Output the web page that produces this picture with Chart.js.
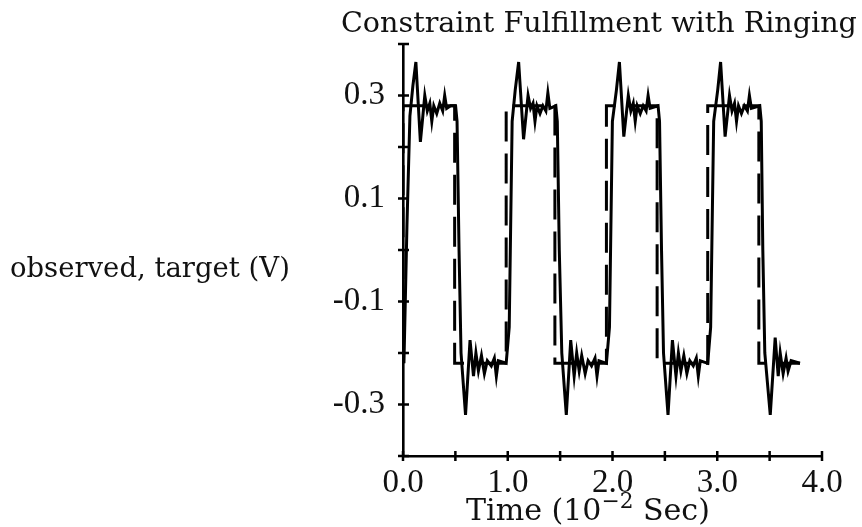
<!DOCTYPE html>
<html>
<head>
<meta charset="utf-8">
<script src="https://cdn.jsdelivr.net/npm/chart.js@4/dist/chart.umd.min.js"></script>
<style>
  body { margin: 0; background: #fff; }
  #wrap { width: 862px; height: 527px; }
</style>
</head>
<body>
<div id="wrap"><canvas id="c"></canvas></div>
<script>
// observed signal (ringing) – time in 10^-2 s, volts
const obsTime = [
  0.009, 0.038, 0.066, 0.095, 0.123, 0.166, 0.208, 0.232, 0.256, 0.275, 0.294, 0.322, 0.351, 0.379, 0.398, 0.417, 0.455, 0.502,
  0.516, 0.535, 0.554, 0.597, 0.640, 0.673, 0.696, 0.720, 0.749, 0.777, 0.805, 0.843, 0.872, 0.891, 0.910, 0.985,
  1.014, 1.042, 1.071, 1.104, 1.151, 1.194, 1.218, 1.241, 1.260, 1.279, 1.308, 1.336, 1.364, 1.383, 1.402, 1.459,
  1.473, 1.492, 1.516, 1.559, 1.601, 1.634, 1.658, 1.682, 1.706, 1.739, 1.767, 1.800, 1.833, 1.852, 1.871, 1.942,
  1.971, 1.999, 2.037, 2.066, 2.108, 2.151, 2.175, 2.198, 2.217, 2.236, 2.265, 2.293, 2.321, 2.340, 2.359, 2.435,
  2.449, 2.468, 2.487, 2.530, 2.572, 2.606, 2.629, 2.653, 2.681, 2.710, 2.738, 2.771, 2.800, 2.819, 2.838, 2.909,
  2.937, 2.966, 3.004, 3.032, 3.075, 3.117, 3.141, 3.165, 3.184, 3.203, 3.231, 3.259, 3.288, 3.307, 3.326, 3.406,
  3.420, 3.435, 3.454, 3.506, 3.553, 3.582, 3.601, 3.629, 3.657, 3.676, 3.705, 3.790
];
const obsVolt = [
  -0.22, 0.05, 0.26, 0.32, 0.365, 0.21, 0.30, 0.27, 0.285, 0.25, 0.28, 0.265, 0.285, 0.27, 0.30, 0.275, 0.28, 0.28,
  0.25, 0.0, -0.20, -0.32, -0.175, -0.245, -0.20, -0.235, -0.205, -0.24, -0.215, -0.225, -0.21, -0.245, -0.215, -0.22,
  -0.15, 0.25, 0.31, 0.365, 0.215, 0.30, 0.275, 0.285, 0.25, 0.28, 0.265, 0.28, 0.27, 0.305, 0.275, 0.28,
  0.25, 0.0, -0.20, -0.32, -0.175, -0.245, -0.20, -0.235, -0.205, -0.24, -0.215, -0.225, -0.21, -0.245, -0.215, -0.22,
  -0.15, 0.25, 0.31, 0.365, 0.22, 0.30, 0.27, 0.285, 0.25, 0.28, 0.265, 0.28, 0.27, 0.30, 0.275, 0.28,
  0.25, 0.0, -0.20, -0.32, -0.175, -0.245, -0.20, -0.235, -0.205, -0.24, -0.215, -0.225, -0.21, -0.245, -0.215, -0.22,
  -0.15, 0.25, 0.31, 0.365, 0.22, 0.30, 0.27, 0.285, 0.25, 0.28, 0.265, 0.28, 0.27, 0.30, 0.275, 0.28,
  0.25, 0.0, -0.20, -0.32, -0.17, -0.245, -0.20, -0.24, -0.21, -0.235, -0.215, -0.22
];

// target square wave
const targetTime = [0, 0, 0.493, 0.493, 0.985, 0.985, 1.450, 1.450, 1.942, 1.942, 2.426, 2.426, 2.909, 2.909, 3.397, 3.397, 3.790];
const targetVolt = [-0.22, 0.28, 0.28, -0.22, -0.22, 0.28, 0.28, -0.22, -0.22, 0.28, 0.28, -0.22, -0.22, 0.28, 0.28, -0.22, -0.22];

const xTickLabels = ['0.0', '1.0', '2.0', '3.0', '4.0'];
const yTickLabels = ['-0.3', '-0.1', '0.1', '0.3'];

const textFont = 'DejaVu Serif';
const tickFont = 'Liberation Serif';

// font size that makes text span a given width
function fitSize(ctx, text, width) {
  ctx.font = '10px "' + textFont + '"';
  return 10 * width / ctx.measureText(text).width;
}

// ticks crossing the axis lines + the texts outside the plot
const axisPlugin = {
  id: 'axisPlugin',
  afterDraw(chart) {
    const {ctx, chartArea, scales} = chart;
    ctx.save();
    ctx.strokeStyle = '#000';
    ctx.lineWidth = 2.5;
    ctx.beginPath();
    scales.x.ticks.forEach(t => {
      const px = scales.x.getPixelForValue(t.value);
      ctx.moveTo(px, chartArea.bottom - 5);
      ctx.lineTo(px, chartArea.bottom + 5);
    });
    scales.y.ticks.forEach(t => {
      const py = scales.y.getPixelForValue(t.value);
      ctx.moveTo(chartArea.left - 5, py);
      ctx.lineTo(chartArea.left + 6, py);
    });
    ctx.stroke();

    ctx.fillStyle = '#111';
    ctx.textBaseline = 'alphabetic';
    ctx.textAlign = 'left';

    const title = 'Constraint Fulfillment with Ringing';
    ctx.font = fitSize(ctx, title, 516) + 'px "' + textFont + '"';
    ctx.fillText(title, 341, 32);

    const ylab = 'observed, target (V)';
    ctx.font = fitSize(ctx, ylab, 280) + 'px "' + textFont + '"';
    ctx.fillText(ylab, 10, 277);

    // x title with superscript, fitted to 466..710
    const a = 'Time (10', b = '\u22122', c = ' Sec)';
    ctx.font = '10px "' + textFont + '"';
    const wa = ctx.measureText(a).width, wc = ctx.measureText(c).width;
    ctx.font = '7.2px "' + textFont + '"';
    const wb = ctx.measureText(b).width;
    const size = 10 * 244 / (wa + wb + wc);
    let x = 466;
    ctx.font = size + 'px "' + textFont + '"';
    ctx.fillText(a, x, 520);
    x += ctx.measureText(a).width;
    ctx.font = (size * 0.72) + 'px "' + textFont + '"';
    ctx.fillText(b, x, 508);
    x += ctx.measureText(b).width;
    ctx.font = size + 'px "' + textFont + '"';
    ctx.fillText(c, x, 520);
    ctx.restore();
  }
};

new Chart(document.getElementById('c'), {
  type: 'line',
  data: {
    datasets: [
      {
        label: 'observed',
        data: obsTime.map((t, i) => ({x: t, y: obsVolt[i]})),
        borderColor: '#000',
        borderWidth: 3,
        pointRadius: 0,
        tension: 0
      },
      {
        label: 'target',
        data: targetTime.map((t, i) => ({x: t, y: targetVolt[i]})),
        borderColor: '#000',
        borderWidth: 3,
        borderDash: [30, 12],
        pointRadius: 0,
        tension: 0
      }
    ]
  },
  options: {
    responsive: true,
    maintainAspectRatio: false,
    animation: false,
    layout: { padding: { top: 44, right: 40, left: 0, bottom: 0 } },
    plugins: {
      legend: { display: false },
      tooltip: { enabled: false }
    },
    scales: {
      x: {
        type: 'linear',
        min: 0, max: 4,
        grid: { display: false },
        border: { display: true, color: '#000', width: 2.6 },
        ticks: {
          stepSize: 0.5,
          padding: 0,
          color: '#111',
          font: { family: tickFont, size: 33 },
          maxRotation: 0,
          autoSkip: false,
          callback: v => xTickLabels.includes(v.toFixed(1)) ? v.toFixed(1) : ''
        },
        afterFit: s => { s.height = 71; }
      },
      y: {
        min: -0.4, max: 0.4,
        grid: { display: false },
        border: { display: true, color: '#000', width: 2.6 },
        ticks: {
          stepSize: 0.1,
          padding: 10,
          color: '#111',
          font: { family: tickFont, size: 33 },
          autoSkip: false,
          callback: v => yTickLabels.includes(v.toFixed(1)) ? v.toFixed(1) : ''
        },
        afterFit: s => { s.width = 403; }
      }
    }
  },
  plugins: [axisPlugin]
});
</script>
</body>
</html>
